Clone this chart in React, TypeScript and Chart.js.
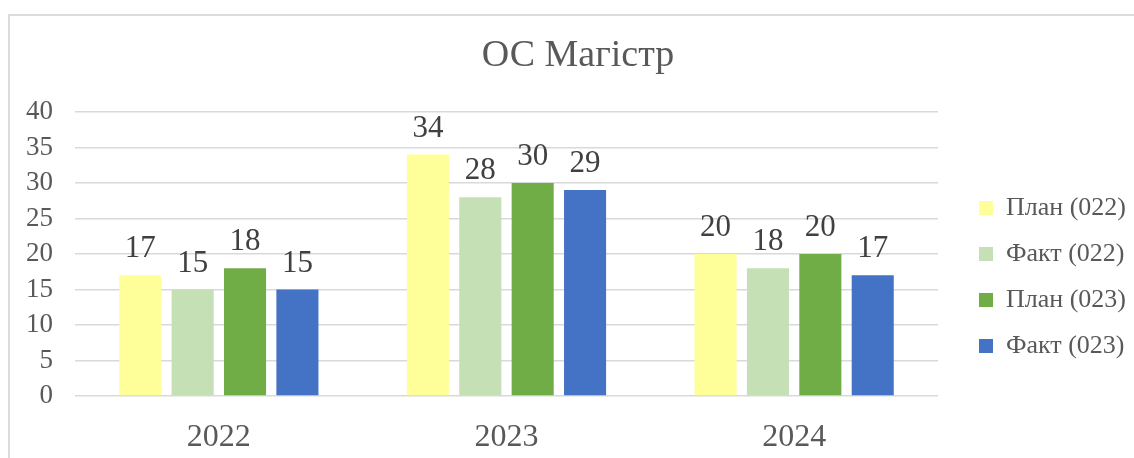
import React, { useEffect, useRef } from 'react';
import { Chart, registerables } from 'chart.js';

Chart.register(...registerables);

const categories = ['2022', '2023', '2024'];
const plan022 = [17, 34, 20];
const fact022 = [15, 28, 18];
const plan023 = [18, 30, 20];
const fact023 = [15, 29, 17];
const seriesNames = ['План (022)', 'Факт (022)', 'План (023)', 'Факт (023)'];
const seriesColors = ['#FFFF99', '#C5E0B4', '#70AD47', '#4472C4'];
const titleText = 'ОС Магістр';
const yMin = 0;
const yMax = 40;
const yStep = 5;

const FONT = "'Liberation Serif', 'Times New Roman', serif";

const dataLabels = {
  id: 'dataLabels',
  afterDatasetsDraw(chart: any) {
    const ctx = chart.ctx;
    ctx.save();
    ctx.font = `31px ${FONT}`;
    ctx.fillStyle = '#404040';
    ctx.textAlign = 'center';
    ctx.textBaseline = 'alphabetic';
    chart.data.datasets.forEach((ds: any, i: number) => {
      const meta = chart.getDatasetMeta(i);
      meta.data.forEach((bar: any, j: number) => {
        ctx.fillText(String(ds.data[j]), bar.x, bar.y - 18);
      });
    });
    ctx.restore();
  },
};

// Fine placement of the built-in legend and title boxes after Chart.js layout.
const boxPlacement = {
  id: 'boxPlacement',
  afterLayout(chart: any) {
    const lg = chart.legend;
    if (lg) {
      const dx = 21;
      const top = 175;
      lg.left += dx;
      lg.right += dx;
      const h = lg.bottom - lg.top;
      lg.top = top;
      lg.bottom = top + h;
    }
    const t = chart.titleBlock;
    if (t) {
      const shift = chart.width / 2 - (t.left + t.right) / 2;
      t.left += shift;
      t.right += shift;
    }
  },
};

export default function App() {
  const ref = useRef<HTMLCanvasElement | null>(null);

  useEffect(() => {
    if (!ref.current) return;
    const seriesData = [plan022, fact022, plan023, fact023];
    const chart = new Chart(ref.current, {
      type: 'bar',
      data: {
        labels: categories,
        datasets: seriesData.map((d, i) => ({
          label: seriesNames[i],
          data: d,
          backgroundColor: seriesColors[i],
          borderWidth: 0,
          categoryPercentage: 0.7285,
          barPercentage: 0.803,
        })),
      },
      options: {
        animation: false,
        responsive: false,
        maintainAspectRatio: false,
        layout: { padding: { left: 0, right: 19, top: 0, bottom: 0 } },
        plugins: {
          title: {
            display: true,
            text: titleText,
            color: '#595959',
            font: { family: FONT, size: 38, weight: 'normal' },
            padding: { top: 33, bottom: 33.4 },
          },
          legend: {
            display: true,
            position: 'right',
            align: 'start',
            labels: {
              color: '#595959',
              font: { family: FONT, size: 26 },
              boxWidth: 14,
              boxHeight: 14,
              padding: 20,
            },
          },
          tooltip: { enabled: false },
        },
        scales: {
          x: {
            grid: { display: false },
            border: { display: false },
            ticks: {
              color: '#595959',
              font: { family: FONT, size: 32 },
              padding: 14,
            },
            afterFit(s: any) {
              s.height = 62;
            },
          },
          y: {
            min: yMin,
            max: yMax,
            ticks: {
              stepSize: yStep,
              color: '#595959',
              font: { family: FONT, size: 27 },
              padding: 22,
            },
            grid: { color: '#d9d9d9', lineWidth: 1.5, drawTicks: false },
            border: { display: false },
            afterFit(s: any) {
              s.width = 53;
            },
          },
        },
      },
      plugins: [dataLabels, boxPlacement],
    });
    return () => chart.destroy();
  }, []);

  return (
    <div style={{ position: 'fixed', left: 0, top: 0, width: 1134, height: 458, overflow: 'hidden', background: '#fff' }}>
      <div
        style={{
          position: 'absolute',
          left: 8,
          top: 14,
          width: 2000,
          height: 2000,
          borderLeft: '2px solid #dcdcdc',
          borderTop: '2px solid #dcdcdc',
        }}
      />
      <canvas
        ref={ref}
        width={1112}
        height={458}
        style={{ position: 'absolute', left: 22, top: 0, width: 1112, height: 458 }}
      />
    </div>
  );
}
